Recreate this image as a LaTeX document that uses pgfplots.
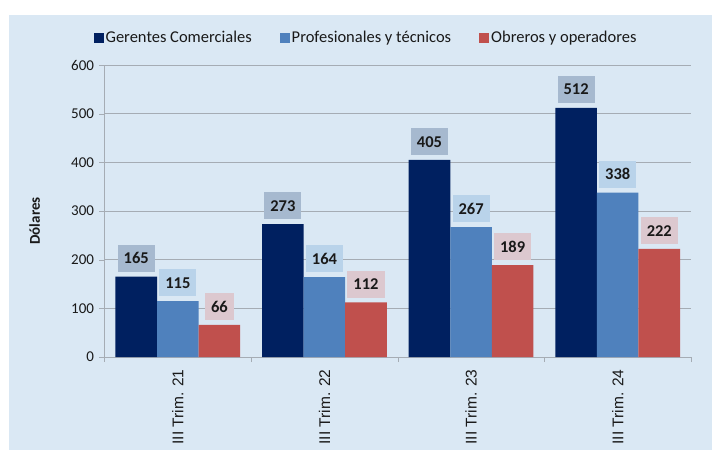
\documentclass[border=0pt]{standalone}
\usepackage{pgfplots}
\usepackage{pgfplotstable}
\pgfplotsset{compat=1.18}
\usepackage{fontspec}
\setmainfont{Carlito}
\newfontfamily\arialf{Liberation Sans}

\definecolor{panel}{RGB}{218,232,244}
\definecolor{navy}{RGB}{0,32,96}
\definecolor{azul}{RGB}{79,129,189}
\definecolor{rojo}{RGB}{192,80,77}
\definecolor{navyL}{RGB}{166,185,207}
\definecolor{azulL}{RGB}{185,211,234}
\definecolor{rojoL}{RGB}{220,200,207}
\definecolor{gridc}{RGB}{165,172,180}
\definecolor{txt}{RGB}{25,25,25}

% salario promedio por trimestre
\pgfplotstableread{
x ger pro obr
0 165 115 66
1 273 164 112
2 405 267 189
3 512 338 222
}\datos

\begin{document}
\begin{tikzpicture}
    \path[use as bounding box, fill=white] (0,0) rectangle (712pt,450pt);
    \fill[panel] (8.7pt,0) rectangle (712pt,435pt);
    \begin{axis}[
            at={(104.5pt,93pt)}, anchor=south west,
            scale only axis,
            width=586.5pt, height=292pt,
            xmin=-0.5, xmax=3.5,
            ymin=0, ymax=600,
            ytick={0,100,...,600},
            xtick={0,1,2,3},
            xticklabels={III Trim. 21,III Trim. 22,III Trim. 23,III Trim. 24},
            minor xtick={-0.5,0.5,1.5,2.5,3.5},
            major x tick style={draw=none},
            minor tick length=5pt,
            major tick length=5pt,
            tick align=outside,
            tick style={gridc},
            axis x line*=bottom,
            axis y line*=left,
            axis line style={gridc},
            ymajorgrids=true,
            grid style={gridc, line width=0.6pt},
            /pgf/number format/assume math mode=true,
            ticklabel style={text=txt},
            yticklabel style={font=\fontsize{15}{18}\selectfont, xshift=-2pt},
            xticklabel style={font=\arialf\fontsize{15.5}{18}\selectfont, rotate=90, anchor=east, yshift=0pt, xshift=-4pt},
            ylabel={Dólares},
            ylabel style={at={(axis description cs:-0.119,0.466)}, anchor=center, rotate=0, font=\bfseries\fontsize{15}{18}\selectfont, text=txt},
            ybar=0pt,
            bar width=41.6pt,
            nodes near coords,
            every node near coord/.append style={font=\bfseries\fontsize{16.5}{19}\selectfont, text=txt, anchor=south, yshift=4.6pt, minimum height=27pt, inner xsep=6pt, text height=11pt},
            legend columns=3,
            legend style={draw=none, fill=none, at={(0.446,1.0925)}, anchor=center,
                font=\fontsize{16.5}{19}\selectfont, text=txt,
                /tikz/every even column/.append style={column sep=26pt}},
            legend image code/.code={\fill[#1] (0pt,-5pt) rectangle (10pt,5pt);},
        ]
        \addplot[fill=navy, draw=none, every node near coord/.append style={fill=navyL}] table[x=x, y=ger] {\datos};
        \addlegendentry{Gerentes Comerciales}
        \addplot[fill=azul, draw=none, every node near coord/.append style={fill=azulL}] table[x=x, y=pro] {\datos};
        \addlegendentry{Profesionales y técnicos}
        \addplot[fill=rojo, draw=none, every node near coord/.append style={fill=rojoL}] table[x=x, y=obr] {\datos};
        \addlegendentry{Obreros y operadores}
    \end{axis}
\end{tikzpicture}
\end{document}
